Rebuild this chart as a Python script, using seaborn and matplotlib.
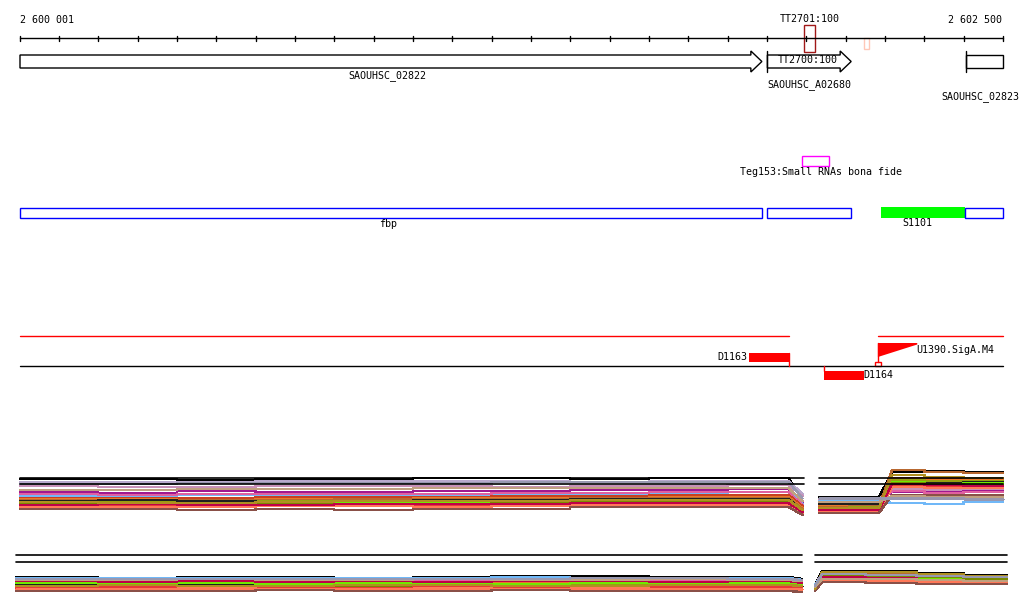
"""
Genome browser view around SAOUHSC_02822 / fbp (2 600 001 - 2 602 500).
"""

import matplotlib.pyplot as plt
import numpy as np
import pandas as pd
import seaborn as sns
from matplotlib.patches import Polygon, Rectangle

# ---- region -------------------------------------------------------------
REGION_START = 2600001
REGION_END = 2602500
TICK_STEP = 100

# ---- annotation tracks (genome coordinates) ----------------------------
GENES = [  # name, start, end, has arrow head, start inside view
    ("SAOUHSC_02822", 2600001, 2601887, True, False),
    ("SAOUHSC_A02680", 2601901, 2602114, True, True),
    ("SAOUHSC_02823", 2602405, 2602500, False, True),
]
GENE_LABEL_POS = [2600936, 2602008, 2602443]
TERMINATORS = [("TT2701:100", 2601995, 2602023), ("TT2700:100", 2602146, 2602159)]
SRNA = ("Teg153:Small RNAs bona fide", 2601989, 2602057)
OPERONS = [("fbp", 2600001, 2601887), ("", 2601901, 2602113)]
S_FEATURE = ("S1101", 2602190, 2602403, 2602500)

TU_SPANS = [(2600001, 2601956), (2602182, 2602500)]
DOWN_SHIFTS = [("D1163", 2601855, 2601955, "+"), ("D1164", 2602045, 2602147, "-")]
PROMOTER = ("U1390.SigA.M4", 2602182, 2602282)

# ---- expression profiles -----------------------------------------------
PROBES = [f"p{i:02d}" for i in range(1, 21)]
COLORS = [
    "#000000", "#b8a8cc", "#c890b8", "#a01890", "#70b8f8",
    "#e060a0", "#c84020", "#e87828", "#b86830", "#98a010",
    "#202020", "#70e800", "#7a8a00", "#e83838", "#ff7858",
    "#c00048", "#8a5048", "#b09020", "#c0a080", "#9898b0",
]

# panel 1, left part: plateau knots, levels (rows below top guide), level after drop
P1_LEFT_KNOTS = [2600001, 2600200, 2600400, 2600600, 2600800, 2601000,
                 2601200, 2601400, 2601600, 2601800, 2601955]
P1_LEFT_END = 2601990
P1_LEFT = [
    [1, 1, 2, 1, 1, 0, 0, 1, 0, 0], [4, 4, 4, 3, 3, 3, 3, 4, 3, 3],
    [8, 9, 9, 8, 8, 8, 9, 8, 8, 7], [14, 15, 13, 14, 14, 13, 13, 12, 12, 11],
    [18, 18, 17, 18, 17, 17, 16, 16, 15, 14], [16, 17, 16, 16, 16, 16, 15, 15, 14, 14],
    [20, 20, 20, 19, 19, 19, 18, 18, 17, 17], [21, 21, 22, 21, 21, 20, 20, 20, 19, 19],
    [22, 23, 22, 22, 21, 21, 21, 20, 20, 20], [24, 24, 24, 23, 24, 23, 22, 22, 22, 21],
    [23, 22, 23, 24, 23, 22, 22, 21, 21, 21], [26, 26, 25, 25, 25, 25, 24, 23, 23, 23],
    [25, 27, 26, 26, 26, 26, 25, 24, 24, 24], [28, 28, 27, 27, 28, 28, 27, 26, 26, 26],
    [29, 29, 29, 28, 28, 29, 28, 27, 27, 27], [27, 26, 27, 27, 26, 26, 26, 25, 25, 25],
    [31, 31, 32, 31, 32, 31, 31, 29, 29, 29], [24, 25, 25, 24, 23, 23, 23, 22, 22, 22],
    [12, 12, 11, 11, 11, 10, 10, 10, 10, 10], [6, 6, 5, 5, 5, 5, 4, 4, 4, 4],
]
P1_LEFT_DROP = [22, 16, 18, 24, 26, 27, 28, 30, 31, 32,
                33, 33, 34, 35, 36, 34, 37, 32, 23, 20]

# panel 1, right part: levels before and after the rise at the promoter
P1_RIGHT_PRE_KNOTS = [2602032, 2602110, 2602185]
P1_RIGHT_POST_KNOTS = [2602218, 2602300, 2602400, 2602500]
P1_RIGHT_PRE = [
    [19, 19], [21, 21], [22, 22], [24, 23], [23, 23], [25, 25], [27, 27],
    [28, 27], [29, 28], [30, 29], [26, 26], [31, 30], [32, 31], [33, 33],
    [34, 33], [32, 32], [35, 35], [30, 30], [24, 24], [20, 20],
]
P1_RIGHT_POST = [
    [-6, -7, -6], [8, 9, 9], [11, 12, 12], [14, 14, 13], [25, 26, 24],
    [13, 15, 14], [0, 1, 1], [1, 2, 2], [-8, -6, -5], [2, 3, 3],
    [4, 5, 4], [4, 6, 5], [5, 6, 7], [7, 8, 9], [9, 10, 10],
    [6, 7, 8], [17, 17, 17], [-3, -1, 0], [18, 19, 19], [20, 20, 21],
]

# panel 2, left part
P2_LEFT_KNOTS = [2599991, 2600200, 2600400, 2600600, 2600800, 2601000,
                 2601200, 2601400, 2601600, 2601800, 2601955]
P2_LEFT_END = 2601989
P2_LEFT = [
    [22, 23, 22, 22, 23, 22, 21, 21, 22, 22], [24, 24, 24, 24, 24, 23, 24, 24, 24, 24],
    [25, 25, 25, 25, 25, 25, 25, 25, 25, 25], [27, 26, 27, 27, 27, 27, 26, 27, 26, 26],
    [23, 23, 23, 23, 23, 23, 22, 23, 23, 23], [26, 26, 26, 25, 26, 26, 26, 26, 26, 26],
    [29, 29, 28, 28, 28, 29, 28, 28, 28, 28], [28, 28, 28, 28, 27, 28, 28, 28, 27, 27],
    [30, 30, 29, 30, 29, 29, 29, 29, 29, 29], [31, 31, 31, 30, 30, 31, 30, 30, 30, 30],
    [29, 28, 30, 29, 31, 30, 31, 32, 31, 31], [28, 29, 28, 29, 28, 28, 29, 28, 28, 28],
    [32, 32, 31, 31, 31, 32, 31, 31, 31, 31], [33, 32, 33, 33, 33, 32, 32, 33, 32, 32],
    [34, 34, 33, 34, 34, 33, 34, 33, 34, 34], [26, 27, 26, 27, 26, 27, 26, 26, 27, 26],
    [36, 36, 36, 35, 36, 36, 35, 36, 36, 36], [31, 30, 31, 31, 30, 30, 31, 31, 30, 30],
    [25, 25, 24, 25, 25, 24, 25, 25, 24, 25], [24, 24, 24, 24, 24, 24, 24, 23, 23, 24],
]
P2_LEFT_DROP = [24, 25, 26, 27, 25, 27, 29, 28, 30, 31,
                31, 29, 32, 33, 34, 28, 37, 31, 26, 25]

# panel 2, right part
P2_RIGHT_START = 2602022
P2_RIGHT_KNOTS = [2602040, 2602150, 2602280, 2602400, 2602510]
P2_RIGHT_PRE = [30, 31, 32, 33, 30, 33, 33, 32, 34, 34,
                31, 33, 35, 35, 34, 32, 36, 34, 32, 31]
P2_RIGHT_POST = [
    [16, 16, 18, 20], [18, 19, 20, 21], [20, 21, 21, 22], [21, 22, 23, 24],
    [20, 20, 21, 22], [22, 23, 23, 24], [23, 24, 24, 25], [18, 19, 21, 23],
    [17, 18, 20, 22], [19, 20, 21, 23], [21, 22, 24, 25], [22, 22, 23, 24],
    [20, 21, 22, 24], [24, 25, 26, 27], [25, 26, 27, 28], [22, 23, 25, 26],
    [27, 28, 29, 29], [17, 17, 19, 21], [24, 24, 25, 26], [19, 20, 21, 22],
]

# ---- layout (pixel rows of the 611 px high image) ----------------------
PX_LEFT, PX_RIGHT, IMG_W, IMG_H = 20, 1003, 1024, 611
P1_TOP, P2_TOP, GUIDE_GAP = 478, 555, 6


def steps(knots, levels):
    """Turn plateau knots and levels into step coordinates."""
    xs, ys = [], []
    for i, v in enumerate(levels):
        xs += [knots[i], knots[i + 1]]
        ys += [v, v]
    return xs, ys


def build_profiles():
    rows = []

    def add(probe, part, xs, ys, top):
        for x, y in zip(xs, ys):
            rows.append({"probe": probe, "part": part, "pos": x, "y": top + y})

    for i, probe in enumerate(PROBES):
        xs, ys = steps(P1_LEFT_KNOTS, P1_LEFT[i])
        add(probe, "p1l", xs + [P1_LEFT_END], ys + [P1_LEFT_DROP[i]], P1_TOP)

        xs, ys = steps(P1_RIGHT_PRE_KNOTS, P1_RIGHT_PRE[i])
        xp, yp = steps(P1_RIGHT_POST_KNOTS, P1_RIGHT_POST[i])
        add(probe, "p1r", xs + xp, ys + yp, P1_TOP)

        xs, ys = steps(P2_LEFT_KNOTS, P2_LEFT[i])
        add(probe, "p2l", xs + [P2_LEFT_END], ys + [P2_LEFT_DROP[i]], P2_TOP)

        xp, yp = steps(P2_RIGHT_KNOTS, P2_RIGHT_POST[i])
        add(probe, "p2r", [P2_RIGHT_START] + xp, [P2_RIGHT_PRE[i]] + yp, P2_TOP)
    return pd.DataFrame(rows)


def main() -> None:
    sns.set_theme(style="white")
    plt.rcParams["font.family"] = ["DejaVu Sans Mono", "DejaVu Sans"]
    plt.rcParams["text.color"] = "black"
    fs = 7.2

    fig = plt.figure(figsize=(IMG_W / 100, IMG_H / 100), dpi=100)
    ax = fig.add_axes([0, 0, 1, 1])
    bp_per_px = (REGION_END - REGION_START) / (PX_RIGHT - PX_LEFT)
    ax.set_xlim(REGION_START - PX_LEFT * bp_per_px,
                REGION_START + (IMG_W - PX_LEFT) * bp_per_px)
    ax.set_ylim(IMG_H, 0)
    ax.axis("off")

    # scale bar
    ax.plot([REGION_START, REGION_END], [38, 38], color="black", lw=1)
    for t in range(REGION_START - 1, REGION_END + 1, TICK_STEP):
        ax.plot([t, t], [35.5, 40.5], color="black", lw=1)
    ax.text(REGION_START, 20, "2 600 001", fontsize=fs, ha="left", va="center")
    ax.text(REGION_END - 2, 20, "2 602 500", fontsize=fs, ha="right", va="center")

    # terminators
    name, a, b = TERMINATORS[0]
    ax.add_patch(Rectangle((a, 25), b - a, 27, fill=False, ec="#a01818", lw=1))
    ax.text((a + b) / 2, 19, name, fontsize=fs, ha="center", va="center")
    name, a, b = TERMINATORS[1]
    ax.add_patch(Rectangle((a, 38), b - a, 10.5, fill=False, ec="#ffc8b8", lw=1))

    # genes
    head = 11 * bp_per_px
    for (name, a, b, arrow, start_in), lab in zip(GENES, GENE_LABEL_POS):
        if arrow:
            pts = [(a, 55), (b - head, 55), (b - head, 51), (b, 61.5),
                   (b - head, 72), (b - head, 68), (a, 68)]
        else:
            pts = [(a, 55), (b, 55), (b, 68), (a, 68)]
        ax.add_patch(Polygon(pts, closed=True, fill=False, ec="black", lw=1))
        if start_in:
            ax.plot([a, a], [51, 72], color="black", lw=1)
    ax.text(GENE_LABEL_POS[0], 76, GENES[0][0], fontsize=fs, ha="center", va="center")
    ax.text(GENE_LABEL_POS[1], 85, GENES[1][0], fontsize=fs, ha="center", va="center")
    ax.text(GENE_LABEL_POS[2], 97, GENES[2][0], fontsize=fs, ha="center", va="center")
    ax.text((TERMINATORS[0][1] + TERMINATORS[0][2]) / 2 - 5, 60, TERMINATORS[1][0],
            fontsize=fs, ha="center", va="center")

    # small RNA
    name, a, b = SRNA
    ax.add_patch(Rectangle((a, 155.5), b - a, 10.5, fill=False, ec="#ff00ff", lw=1))
    ax.text(2602037, 172, name, fontsize=fs, ha="center", va="center")

    # operon / segment boxes
    for name, a, b in OPERONS:
        ax.add_patch(Rectangle((a, 207.5), b - a, 10, fill=False, ec="#0000ff", lw=1))
    ax.text(2600936, 224, OPERONS[0][0], fontsize=fs, ha="center", va="center")
    name, a, b, c = S_FEATURE
    ax.add_patch(Rectangle((a, 207), b - a, 11, fc="#00ff00", ec="none"))
    ax.add_patch(Rectangle((b, 207.5), c - b, 10, fill=False, ec="#0000ff", lw=1))
    ax.text(2602283, 223.5, name, fontsize=fs, ha="center", va="center")

    # transcription units / shifts
    for a, b in TU_SPANS:
        ax.plot([a, b], [336, 336], color="#ff0000", lw=1)
    ax.plot([REGION_START, REGION_END], [366, 366], color="black", lw=1)
    name, a, b, _ = DOWN_SHIFTS[0]
    ax.add_patch(Rectangle((a, 353), b - a, 8.5, fc="#ff0000", ec="none"))
    ax.plot([b, b], [353, 366], color="#ff0000", lw=1)
    ax.text(a - 4, 357, name, fontsize=fs, ha="right", va="center")
    name, a, b, _ = DOWN_SHIFTS[1]
    ax.add_patch(Rectangle((a, 371), b - a, 9, fc="#ff0000", ec="none"))
    ax.plot([a, a], [366, 371], color="#ff0000", lw=1)
    ax.text(b - 3, 375, name, fontsize=fs, ha="left", va="center")
    name, a, b = PROMOTER
    ax.add_patch(Polygon([(a, 343), (b, 343), (b, 344.5), (a, 357)],
                         closed=True, fc="#ff0000", ec="none"))
    ax.plot([a, a], [343, 362], color="#ff0000", lw=1)
    ax.add_patch(Rectangle((a - 7, 362.3), 14, 3.7, fill=False, ec="#ff0000", lw=1))
    ax.text(b - 2, 350, name, fontsize=fs, ha="left", va="center")

    # expression profiles
    df = build_profiles()
    palette = dict(zip(PROBES, COLORS))
    for part, sub in df.groupby("part"):
        sns.lineplot(data=sub, x="pos", y="y", hue="probe", palette=palette,
                     estimator=None, sort=False, legend=False, lw=1.0,
                     antialiased=False, ax=ax)
    ax.set_ylim(IMG_H, 0)
    ax.axis("off")

    # guide lines on top of the profiles
    for top, spans in [(P1_TOP, [(2600001, 2601993), (2602032, 2602500)]),
                       (P2_TOP, [(2599991, 2601989), (2602022, 2602510)])]:
        for a, b in spans:
            for off in (0, GUIDE_GAP + (1 if top == P2_TOP else 0)):
                ax.plot([a, b], [top + off, top + off], color="black", lw=1.2)

    fig.savefig("out.png", dpi=100, facecolor="white")
    plt.close(fig)


if __name__ == "__main__":
    main()
